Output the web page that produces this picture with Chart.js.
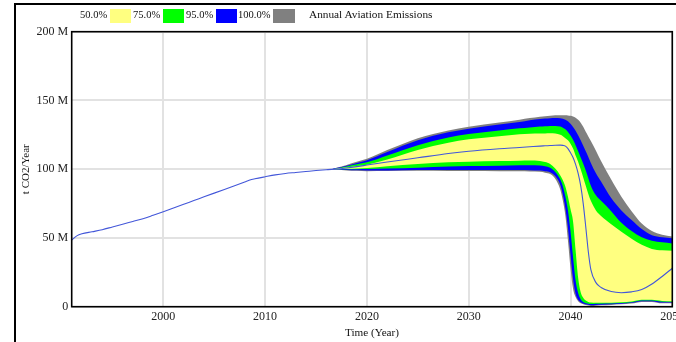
<!DOCTYPE html>
<html>
<head>
<meta charset="utf-8">
<script src="https://cdn.jsdelivr.net/npm/chart.js@4.4.1/dist/chart.umd.min.js"></script>
<style>
html,body{margin:0;padding:0;background:#fff;overflow:hidden;width:676px;height:342px;}
#wrap{position:relative;width:676px;height:342px;overflow:hidden;}
#frame{position:absolute;left:14px;top:3px;width:800px;height:400px;border-left:2px solid #000;border-top:2px solid #000;}
#c{position:absolute;left:0;top:0;}
.lg{position:absolute;font-family:"Liberation Serif","Times New Roman",serif;color:#111;line-height:1;white-space:nowrap;}
.bx{position:absolute;top:9px;height:14px;}
</style>
</head>
<body>
<div id="wrap">
  <div id="frame"></div>
  <canvas id="c" width="690" height="342"></canvas>
  <div class="lg" style="left:80px;top:9.6px;font-size:10.5px">50.0%</div>
  <div class="bx" style="left:110px;width:21px;background:#ffff80"></div>
  <div class="lg" style="left:133px;top:9.6px;font-size:10.5px">75.0%</div>
  <div class="bx" style="left:163px;width:21px;background:#00ff00"></div>
  <div class="lg" style="left:186px;top:9.6px;font-size:10.5px">95.0%</div>
  <div class="bx" style="left:216px;width:21px;background:#0000ff"></div>
  <div class="lg" style="left:238px;top:9.6px;font-size:10.5px">100.0%</div>
  <div class="bx" style="left:273px;width:22px;background:#808080"></div>
  <div class="lg" style="left:309px;top:8.8px;font-size:11.3px">Annual Aviation Emissions</div>
</div>
<script>
// ---- data (values in million t CO2 / year) ----
const histYears = [1991, 1991.5, 1992, 1993, 1994, 1995, 1996, 1997, 1998, 1999, 2000, 2001, 2002, 2003, 2004, 2005, 2006, 2007, 2008, 2008.5, 2009, 2010, 2011, 2012, 2013, 2014, 2015, 2016];
const histEmissions = [48.5, 51.5, 53.0, 54.5, 56.0, 58.0, 60.0, 62.0, 64.0, 66.5, 69.1, 71.8, 74.5, 77.2, 79.9, 82.6, 85.3, 88.0, 90.7, 92.1, 93.0, 94.5, 95.9, 96.9, 97.6, 98.3, 99.0, 99.6];

const bandYears = [2016.5, 2017, 2018, 2019, 2020, 2022, 2025, 2028, 2030, 2033, 2035, 2036, 2037, 2037.5, 2038, 2038.5, 2039, 2039.25, 2039.5, 2039.75, 2040, 2040.25, 2040.5, 2040.75, 2041, 2041.25, 2041.5, 2041.75, 2042, 2042.5, 2043, 2044, 2045, 2046, 2047, 2048, 2049, 2050];
const meanEmissions = [99.9, 100.1, 100.9, 101.9, 103.0, 105.2, 108.3, 111.4, 113.1, 114.9, 115.8, 116.3, 116.8, 117.0, 117.2, 117.4, 117.5, 117.3, 116.8, 115.0, 112.0, 108.5, 103.5, 97.0, 88.0, 75.0, 58.0, 40.0, 27.0, 17.5, 14.0, 11.0, 10.2, 10.8, 12.5, 16.5, 22.0, 28.0];

const p50High = [99.9, 100.4, 101.3, 102.3, 103.3, 107.0, 114.0, 119.2, 121.7, 124.0, 125.4, 125.8, 126.0, 126.05, 126.1, 126.0, 125.0, 124.0, 122.5, 121.0, 118.5, 115.0, 110.0, 105.5, 100.0, 94.0, 88.0, 82.0, 77.0, 70.0, 66.0, 60.0, 54.5, 49.5, 45.0, 42.0, 41.0, 40.7];
const p50Low = [99.9, 100.0, 100.3, 100.6, 100.9, 102.2, 103.8, 105.0, 105.5, 106.0, 106.2, 106.3, 106.0, 105.2, 103.8, 100.5, 95.5, 92.0, 87.3, 80.0, 71.0, 62.0, 41.0, 21.0, 10.5, 6.5, 4.5, 3.5, 3.0, 2.8, 2.8, 2.8, 3.2, 3.8, 5.0, 5.0, 4.2, 4.0];

const p75High = [99.9, 100.6, 102.0, 103.6, 105.0, 110.0, 117.5, 123.0, 125.6, 128.2, 129.7, 130.4, 131.0, 131.2, 131.4, 131.5, 131.0, 130.2, 129.0, 127.0, 124.5, 121.5, 117.5, 113.0, 108.5, 104.0, 99.0, 93.5, 88.0, 81.0, 77.0, 69.5, 61.0, 55.0, 50.5, 48.0, 46.8, 46.0];
const p75Low = [99.9, 99.9, 99.9, 100.0, 100.1, 100.5, 101.1, 101.9, 102.3, 102.6, 102.8, 102.9, 102.7, 102.2, 101.0, 98.0, 92.5, 87.5, 80.0, 70.0, 55.0, 36.0, 19.0, 10.0, 5.5, 3.5, 2.6, 2.2, 2.0, 2.2, 2.2, 2.3, 2.7, 3.3, 4.5, 4.5, 3.6, 3.5];

const p95High = [99.9, 100.8, 102.6, 104.6, 106.6, 112.5, 121.0, 126.8, 129.4, 132.5, 134.3, 135.6, 136.5, 136.8, 137.0, 137.2, 137.0, 136.7, 136.0, 134.8, 133.0, 130.7, 128.0, 124.7, 121.0, 117.0, 113.0, 108.8, 104.5, 97.0, 91.0, 79.0, 70.0, 63.0, 56.5, 52.0, 50.5, 49.8];
const p95Low = [99.9, 99.7, 99.4, 99.2, 99.1, 99.1, 99.4, 99.4, 99.4, 99.4, 99.4, 99.3, 99.0, 98.6, 97.8, 95.0, 88.5, 81.5, 71.5, 57.0, 38.0, 20.0, 9.5, 5.0, 3.2, 2.4, 1.8, 1.4, 1.0, 1.3, 1.5, 1.8, 2.2, 2.8, 4.0, 4.0, 3.0, 3.0];

const p100High = [99.9, 101.0, 103.1, 105.4, 107.6, 113.9, 122.6, 128.2, 130.8, 134.0, 136.0, 137.2, 138.2, 138.6, 138.9, 139.2, 139.2, 139.2, 139.2, 139.1, 138.8, 138.3, 137.4, 135.9, 133.8, 130.8, 127.2, 123.8, 120.5, 113.5, 106.0, 92.5, 80.0, 69.5, 60.5, 55.0, 52.3, 51.0];
const p100Low = [99.9, 99.6, 99.1, 98.8, 98.6, 98.7, 98.8, 98.7, 98.7, 98.6, 98.5, 98.4, 98.1, 97.5, 96.5, 93.0, 85.0, 77.0, 66.0, 48.0, 28.0, 13.0, 7.0, 4.0, 2.5, 1.8, 1.2, 0.8, 0.5, 0.7, 1.0, 1.3, 1.7, 2.3, 3.5, 3.5, 2.5, 2.5];

const xTicks = [2000, 2010, 2020, 2030, 2040, 2050];
const yTicks = [0, 50, 100, 150, 200];
const yTickLabels = ['0', '50 M', '100 M', '150 M', '200 M'];

// ---- build chart ----
const pts = (xs, ys) => xs.map((x, i) => ({x: x, y: ys[i]}));
const meanData = pts(histYears, histEmissions).concat(pts(bandYears, meanEmissions));

function edge(data, order, fill, color) {
  return {
    data: data, order: order, fill: fill,
    backgroundColor: color || 'rgba(0,0,0,0)',
    borderColor: 'rgba(0,0,0,0)', borderWidth: 0,
    pointRadius: 0, pointHoverRadius: 0,
    cubicInterpolationMode: 'monotone'
  };
}

const datasets = [
  {data: meanData, order: 0, fill: false, borderColor: '#4357d9', borderWidth: 1.1,
   pointRadius: 0, cubicInterpolationMode: 'monotone'},
  edge(pts(bandYears, p50Low), 1, false),
  edge(pts(bandYears, p50High), 1, 1, '#ffff80'),
  edge(pts(bandYears, p75Low), 2, false),
  edge(pts(bandYears, p75High), 2, 3, '#00ff00'),
  edge(pts(bandYears, p95Low), 3, false),
  edge(pts(bandYears, p95High), 3, 5, '#0000ff'),
  edge(pts(bandYears, p100Low), 4, false),
  edge(pts(bandYears, p100High), 4, 7, '#808080')
];

const serif = 'Liberation Serif, Times New Roman, serif';

const boxPlugin = {
  id: 'plotBox',
  afterDatasetsDraw(chart) {
    const {ctx, chartArea: a} = chart;
    ctx.save();
    ctx.strokeStyle = '#000';
    ctx.lineWidth = 1.6;
    ctx.strokeRect(a.left, a.top, a.right - a.left, a.bottom - a.top);
    ctx.restore();
  }
};

new Chart(document.getElementById('c'), {
  type: 'line',
  data: {datasets: datasets},
  options: {
    responsive: false,
    animation: false,
    devicePixelRatio: 1,
    parsing: true,
    layout: {padding: {left: 0, right: 17.7, top: 31.7, bottom: 0}},
    plugins: {legend: {display: false}, tooltip: {enabled: false}},
    scales: {
      x: {
        type: 'linear', min: 1991, max: 2050,
        afterBuildTicks: s => { s.ticks = xTicks.map(v => ({value: v})); },
        afterFit: s => { s.height = 35.3; },
        ticks: {autoSkip: false, maxRotation: 0, padding: 3, color: '#222',
                font: {family: serif, size: 12}, callback: v => String(v)},
        grid: {color: '#e2e2e2', lineWidth: 2, drawTicks: false},
        border: {display: false},
        title: {display: true, text: 'Time (Year)', color: '#111',
                font: {family: serif, size: 11.2}, padding: {top: 0, bottom: 2.2}}
      },
      y: {
        type: 'linear', min: 0, max: 200,
        afterBuildTicks: s => { s.ticks = yTicks.map(v => ({value: v})); },
        afterFit: s => { s.width = 71.7; },
        ticks: {padding: 3.5, color: '#222', font: {family: serif, size: 12},
                callback: v => yTickLabels[yTicks.indexOf(v)]},
        grid: {color: '#e2e2e2', lineWidth: 2, drawTicks: false},
        border: {display: false},
        title: {display: true, text: 't CO2/Year', color: '#111',
                font: {family: serif, size: 11}, padding: {top: 19.4, bottom: 0}}
      }
    }
  },
  plugins: [boxPlugin]
});
</script>
</body>
</html>
